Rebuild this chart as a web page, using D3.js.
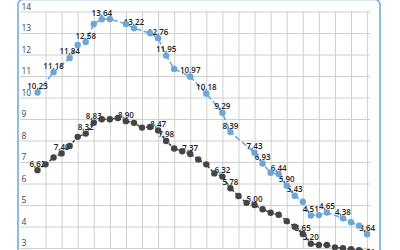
<!DOCTYPE html>
<html><head><meta charset="utf-8">
<script src="https://cdn.jsdelivr.net/npm/d3@7"></script>
<style>
html,body{margin:0;padding:0;background:#fff;}
svg{display:block;font-family:"Open Sans",sans-serif;}
</style></head>
<body><svg id="c" width="400" height="250"></svg>
<script>
const categories = ["1","2","3","4","5","6","7","8","9","10","11","12","13","14","15","16","17","18","19","20","21","22","23","24","25","26","27","28","29","30","31","32","33","34","35","36","37","38","39","40","41","42"];
const blueValues = [10.23,null,11.18,null,11.84,12.44,12.58,13.42,13.64,13.65,null,13.42,13.22,null,12.99,12.76,11.95,11.33,null,10.97,null,10.18,null,9.29,8.39,null,null,7.43,6.93,6.50,6.44,5.90,5.43,5.15,4.51,4.53,4.65,null,4.38,4.20,4.04,3.64];
const blackValues = [6.62,6.89,7.21,7.40,7.75,8.17,8.32,8.83,8.99,8.99,9.05,8.90,8.82,8.60,8.63,8.47,7.98,7.63,7.50,7.37,7.12,6.89,6.47,6.32,5.78,5.42,5.10,5.00,4.80,4.64,4.55,4.25,3.99,3.65,3.20,3.14,3.14,3.03,2.99,2.95,2.90,2.51];
const blueLabelIdx = [0,2,4,6,8,12,15,16,19,21,23,24,27,28,30,31,32,34,36,38,41];
const blackLabelIdx = [0,3,6,7,11,15,16,19,23,24,27,33,34,41];
const yTicks = [3,4,5,6,7,8,9,10,11,12,13,14];

const svg = d3.select("#c");
const x = d3.scalePoint().domain(categories).range([37.5, 367.1]);
const y = d3.scaleLinear().domain([3,14]).range([248,11.5]);
const fmt = v => d3.format(".2f")(v).replace(".", ",");

// frame
svg.append("rect").attr("x",18).attr("y",-0.4).attr("width",362).attr("height",300)
  .attr("rx",5).attr("fill","none").attr("stroke","#6aa8d6").attr("stroke-width",1.5);

// horizontal grid + y labels
const yAxis = d3.axisLeft(y).tickValues(yTicks).tickSize(-350).tickFormat(d3.format("d"));
const gy = svg.append("g").attr("transform","translate(20,0)").call(yAxis);
gy.select(".domain").remove();
gy.selectAll(".tick line").attr("stroke","#cfcfcf").attr("stroke-width",1);
gy.selectAll(".tick text").attr("x",1.5).attr("dy","-2.5").attr("text-anchor","start")
  .attr("fill","#444").attr("font-size",8.5).attr("font-family","Open Sans, sans-serif");

// vertical grid
const oddCats = categories.filter((c,i)=>i%2===1);
const xAxis = d3.axisTop(x).tickValues(oddCats).tickSize(-(248-11.5)).tickFormat("");
const gx = svg.append("g").attr("transform","translate(0,11.5)").call(xAxis);
gx.select(".domain").remove();
gx.selectAll(".tick line").attr("stroke","#cfcfcf").attr("stroke-width",1);

function series(vals, color, dash, labelIdx){
  const pts = vals.map((v,i)=>({c:categories[i], v, i})).filter(d=>d.v!==null);
  const line = d3.line().x(d=>x(d.c)).y(d=>y(d.v));
  svg.append("path").datum(pts).attr("d",line).attr("fill","none")
    .attr("stroke",color).attr("stroke-width",1.5).attr("stroke-dasharray",dash);
  return {pts, labelIdx, color};
}
const sb = series(blueValues, "#6ba6d6", "6,2.5", blueLabelIdx);
const sk = series(blackValues, "#444444", "3,2", blackLabelIdx);

[sb, sk].forEach(s=>{
  svg.append("g").selectAll("text").data(s.pts.filter(d=>s.labelIdx.includes(d.i))).join("text")
    .attr("x",d=>x(d.c)).attr("y",d=>y(d.v)-3.5).attr("text-anchor","middle")
    .attr("font-size",8).attr("font-weight",600).attr("fill","#222")
    .text(d=>fmt(d.v));
});
[sb, sk].forEach(s=>{
  svg.append("g").selectAll("circle").data(s.pts).join("circle")
    .attr("cx",d=>x(d.c)).attr("cy",d=>y(d.v)).attr("r",3.2).attr("fill",s.color);
});
</script></body></html>
